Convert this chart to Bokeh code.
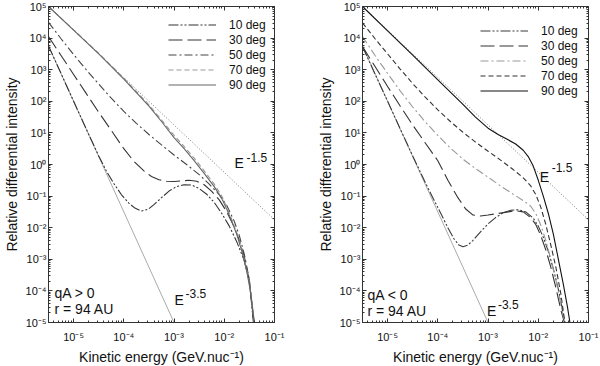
from bokeh.plotting import figure
from bokeh.models import (Range1d, LogAxis, FixedTicker, CustomJSTickFormatter,
                          Legend, LegendItem, Label)
from bokeh.layouts import row
from bokeh.embed import file_html
from bokeh.resources import INLINE

FONT = "Liberation Sans"

# ---------------- data (log10 values) ----------------
# Left panel: qA > 0
L90_X = [-5.5, -5.0, -4.5, -4.0, -3.5, -3.25, -3.0, -2.8, -2.6, -2.4, -2.2, -2.05, -1.95, -1.85, -1.75, -1.65, -1.55, -1.47, -1.40]
L90_Y = [5.0, 4.25, 3.5, 2.7, 1.85, 1.36, 0.85, 0.5, 0.12, -0.28, -0.7, -1.08, -1.42, -1.8, -2.22, -2.75, -3.4, -4.1, -5.0]
L70_X = [-5.5, -5.0, -4.5, -4.0, -3.5, -3.25, -3.0, -2.8, -2.6, -2.4, -2.2, -2.05, -1.95, -1.85, -1.75, -1.65, -1.55, -1.47, -1.40]
L70_Y = [5.0, 4.26, 3.52, 2.73, 1.89, 1.41, 0.92, 0.57, 0.2, -0.2, -0.62, -1.0, -1.35, -1.74, -2.17, -2.7, -3.35, -4.05, -5.0]
L50_X = [-5.5, -5.25, -5.0, -4.75, -4.5, -4.25, -4.0, -3.75, -3.5, -3.25, -3.0, -2.75, -2.5, -2.3, -2.1, -1.95, -1.8, -1.7, -1.6, -1.5, -1.41]
L50_Y = [4.5, 3.98, 3.48, 3.0, 2.55, 2.1, 1.68, 1.3, 0.95, 0.62, 0.3, 0.0, -0.32, -0.62, -0.95, -1.3, -1.8, -2.25, -2.85, -3.65, -5.0]
L30_X = [-5.5, -5.25, -5.0, -4.75, -4.5, -4.25, -4.0, -3.8, -3.6, -3.45, -3.3, -3.15, -3.0, -2.85, -2.7, -2.55, -2.4, -2.25, -2.1, -1.95, -1.8, -1.7, -1.6, -1.5, -1.41]
L30_Y = [4.05, 3.45, 2.85, 2.25, 1.65, 1.08, 0.5, 0.1, -0.2, -0.38, -0.48, -0.53, -0.54, -0.52, -0.5, -0.53, -0.64, -0.85, -1.12, -1.5, -1.98, -2.4, -2.92, -3.7, -5.0]
L10_X = [-5.5, -5.25, -5.0, -4.75, -4.5, -4.35, -4.2, -4.05, -3.9, -3.78, -3.65, -3.52, -3.4, -3.25, -3.1, -2.95, -2.8, -2.65, -2.5, -2.35, -2.2, -2.05, -1.9, -1.75, -1.6, -1.5, -1.42]
L10_Y = [3.75, 2.88, 2.0, 1.13, 0.27, -0.2, -0.6, -0.95, -1.22, -1.38, -1.47, -1.42, -1.27, -1.05, -0.84, -0.7, -0.64, -0.65, -0.76, -0.94, -1.2, -1.55, -1.95, -2.45, -3.05, -3.7, -5.0]

# Right panel: qA < 0
R90_X = [-5.5, -5.0, -4.5, -4.0, -3.5, -3.25, -3.0, -2.8, -2.6, -2.45, -2.3, -2.2, -2.1, -2.0, -1.9, -1.8, -1.7, -1.6, -1.5, -1.42, -1.37]
R90_Y = [5.0, 4.23, 3.46, 2.68, 1.9, 1.5, 1.15, 0.95, 0.78, 0.65, 0.45, 0.25, -0.05, -0.5, -1.0, -1.55, -2.2, -3.0, -3.8, -4.5, -5.0]
R70_X = [-5.5, -5.25, -5.0, -4.75, -4.5, -4.25, -4.0, -3.75, -3.5, -3.25, -3.0, -2.75, -2.5, -2.3, -2.15, -2.05, -1.95, -1.85, -1.75, -1.65, -1.55, -1.47]
R70_Y = [4.48, 3.98, 3.5, 3.02, 2.56, 2.13, 1.73, 1.36, 1.02, 0.71, 0.42, 0.14, -0.16, -0.42, -0.68, -0.95, -1.35, -1.9, -2.55, -3.25, -4.1, -5.0]
R50_X = [-5.5, -5.25, -5.0, -4.75, -4.5, -4.25, -4.0, -3.75, -3.5, -3.25, -3.0, -2.75, -2.5, -2.3, -2.15, -2.05, -1.95, -1.85, -1.75, -1.65, -1.55, -1.48]
R50_Y = [4.05, 3.45, 2.88, 2.33, 1.82, 1.35, 0.92, 0.52, 0.17, -0.13, -0.4, -0.68, -0.94, -1.14, -1.32, -1.55, -1.92, -2.4, -3.0, -3.65, -4.4, -5.0]
R30_X = [-5.5, -5.25, -5.0, -4.75, -4.5, -4.25, -4.0, -3.8, -3.6, -3.45, -3.3, -3.15, -3.0, -2.8, -2.6, -2.45, -2.3, -2.15, -2.05, -1.95, -1.85, -1.75, -1.65, -1.55, -1.48]
R30_Y = [3.73, 3.1, 2.47, 1.85, 1.25, 0.68, 0.12, -0.5, -1.05, -1.4, -1.6, -1.63, -1.6, -1.55, -1.5, -1.46, -1.5, -1.68, -1.9, -2.25, -2.7, -3.25, -3.9, -4.6, -5.0]
R10_X = [-5.5, -5.25, -5.0, -4.75, -4.5, -4.25, -4.1, -3.95, -3.8, -3.68, -3.58, -3.5, -3.4, -3.3, -3.15, -3.0, -2.85, -2.7, -2.55, -2.4, -2.25, -2.1, -2.0, -1.9, -1.8, -1.7, -1.6, -1.52, -1.47]
R10_Y = [3.73, 2.86, 2.0, 1.13, 0.27, -0.57, -1.05, -1.52, -2.0, -2.35, -2.55, -2.6, -2.55, -2.4, -2.13, -1.88, -1.68, -1.53, -1.45, -1.43, -1.5, -1.7, -1.95, -2.3, -2.75, -3.3, -3.95, -4.6, -5.0]

# power-law guide lines (end points)
E15_X = [-5.5, -1.0]
E15_Y = [5.0, -1.75]
E35_X = [-5.5, -3.0]
E35_Y = [3.75, -5.0]

LABELS = ["10 deg", "30 deg", "50 deg", "70 deg", "90 deg"]
X_TICK_EXP = [-5, -4, -3, -2, -1]
Y_TICK_EXP = [-5, -4, -3, -2, -1, 0, 1, 2, 3, 4, 5]


def pw(arr):
    return [10.0 ** v for v in arr]


SUP_JS = """
const sup = {"-":"\u207b","0":"\u2070","1":"\u00b9","2":"\u00b2","3":"\u00b3","4":"\u2074","5":"\u2075","6":"\u2076","7":"\u2077","8":"\u2078","9":"\u2079"};
const e = Math.round(Math.log10(tick));
return "10" + String(e).split("").map(c => sup[c]).join("");
"""


def minor_list(lo, hi):
    out = []
    for k in range(lo, hi):
        for m in range(2, 10):
            out.append(m * 10.0 ** k)
    return out


def style_axis(ax, ticks, minors, labels=True):
    ax.ticker = FixedTicker(ticks=ticks, minor_ticks=minors)
    ax.major_tick_in = 4
    ax.major_tick_out = 0
    ax.minor_tick_in = 2
    ax.minor_tick_out = 0
    ax.major_tick_line_color = "#333333"
    ax.minor_tick_line_color = "#333333"
    ax.axis_line_color = "#333333"
    if labels:
        ax.formatter = CustomJSTickFormatter(code=SUP_JS)
        ax.major_label_text_font = FONT
        ax.major_label_text_font_size = "11px"
        ax.major_label_text_color = "#111111"
    else:
        ax.formatter = CustomJSTickFormatter(code="return '';")
        ax.major_label_text_font_size = "0px"
        ax.major_label_standoff = 0


def make_panel(frame_w, mb_left, mb_right, curves, legend_loc, notes):
    p = figure(x_axis_type="log", y_axis_type="log",
               x_range=Range1d(10 ** -5.5, 10 ** -1), y_range=Range1d(1e-5, 1e5),
               frame_width=frame_w, frame_height=316,
               min_border_left=mb_left, min_border_right=mb_right,
               min_border_top=6, min_border_bottom=0,
               output_backend="svg", toolbar_location=None)
    p.grid.visible = False
    p.outline_line_color = "#333333"
    p.background_fill_color = "white"
    p.border_fill_color = "white"

    xt = pw(X_TICK_EXP)
    yt = pw(Y_TICK_EXP)
    xm = minor_list(-6, -1)
    ym = minor_list(-5, 5)
    style_axis(p.xaxis[0], xt, xm)
    style_axis(p.yaxis[0], yt, ym)
    p.xaxis[0].major_label_standoff = 8
    p.yaxis[0].major_label_standoff = 2
    p.xaxis[0].axis_label = "Kinetic energy (GeV.nuc\u207b\u00b9)"
    p.yaxis[0].axis_label = "Relative differential intensity"
    for ax in (p.xaxis[0], p.yaxis[0]):
        ax.axis_label_text_font = FONT
        ax.axis_label_text_font_size = "14px"
        ax.axis_label_text_font_style = "normal"
        ax.axis_label_text_color = "#111111"
    p.xaxis[0].axis_label_standoff = 3
    p.yaxis[0].axis_label_standoff = 3

    top = LogAxis()
    style_axis(top, xt, xm, labels=False)
    p.add_layout(top, "above")
    right = LogAxis()
    style_axis(right, yt, ym, labels=False)
    p.add_layout(right, "right")

    # guide lines
    p.line(pw(E15_X), pw(E15_Y), line_color="#777777", line_width=1, line_dash="1 2")
    p.line(pw(E35_X), pw(E35_Y), line_color="#aaaaaa", line_width=1)

    items = []
    for (xs, ys, color, dash, lw), lab in zip(curves, LABELS):
        r = p.line(pw(xs), pw(ys), line_color=color, line_width=lw, line_dash=dash)
        items.append(LegendItem(label=lab, renderers=[r]))

    leg = Legend(items=items, location=legend_loc, glyph_width=48, glyph_height=15,
                 label_height=15, spacing=0, padding=0, margin=0, label_standoff=13,
                 border_line_alpha=0, background_fill_alpha=0,
                 label_text_font=FONT, label_text_font_size="12px",
                 label_text_color="#111111")
    p.add_layout(leg)

    for (x, y, txt, size) in notes:
        p.add_layout(Label(x=x, y=y, text=txt, text_font=FONT, text_font_size=size,
                           text_color="#111111", text_baseline="middle", text_align="left"))
    return p


DD = "10 2 2 2 2 2"   # dash-dot-dot
LD = "14 5"           # long dash
DT = "8 3 2 3"        # dash-dot
SD = "5 3"            # short dash

left_curves = [
    (L10_X, L10_Y, "#333333", DD, 1.1),
    (L30_X, L30_Y, "#333333", LD, 1.1),
    (L50_X, L50_Y, "#444444", DT, 1.1),
    (L70_X, L70_Y, "#999999", SD, 1.1),
    (L90_X, L90_Y, "#666666", "solid", 1.1),
]
right_curves = [
    (R10_X, R10_Y, "#3a3a3a", DD, 1.1),
    (R30_X, R30_Y, "#333333", LD, 1.1),
    (R50_X, R50_Y, "#999999", DT, 1.1),
    (R70_X, R70_Y, "#333333", SD, 1.1),
    (R90_X, R90_Y, "#111111", "solid", 1.1),
]

left_notes = [
    (1.6e-2, 1.08, "E", "14px"), (2.77e-2, 1.67, "-1.5", "12px"),
    (1.02e-3, 4.97e-5, "E", "14px"), (1.69e-3, 8.28e-5, "-3.5", "12px"),
    (4.16e-6, 8.28e-5, "qA > 0", "14px"), (4.16e-6, 2.58e-5, "r = 94 AU", "14px"),
]
right_notes = [
    (1.07e-2, 0.417, "E", "14px"), (1.85e-2, 0.803, "-1.5", "12px"),
    (9.5e-4, 2.23e-5, "E", "14px"), (1.57e-3, 3.72e-5, "-3.5", "12px"),
    (3.97e-6, 7.69e-5, "qA < 0", "14px"), (3.97e-6, 2.23e-5, "r = 94 AU", "14px"),
]

p1 = make_panel(226, 47, 40, left_curves, (120, 230), left_notes)
p2 = make_panel(226, 47, 14, right_curves, (118, 224), right_notes)

layout = row(p1, p2)
open("out.html", "w").write(file_html(layout, INLINE))
